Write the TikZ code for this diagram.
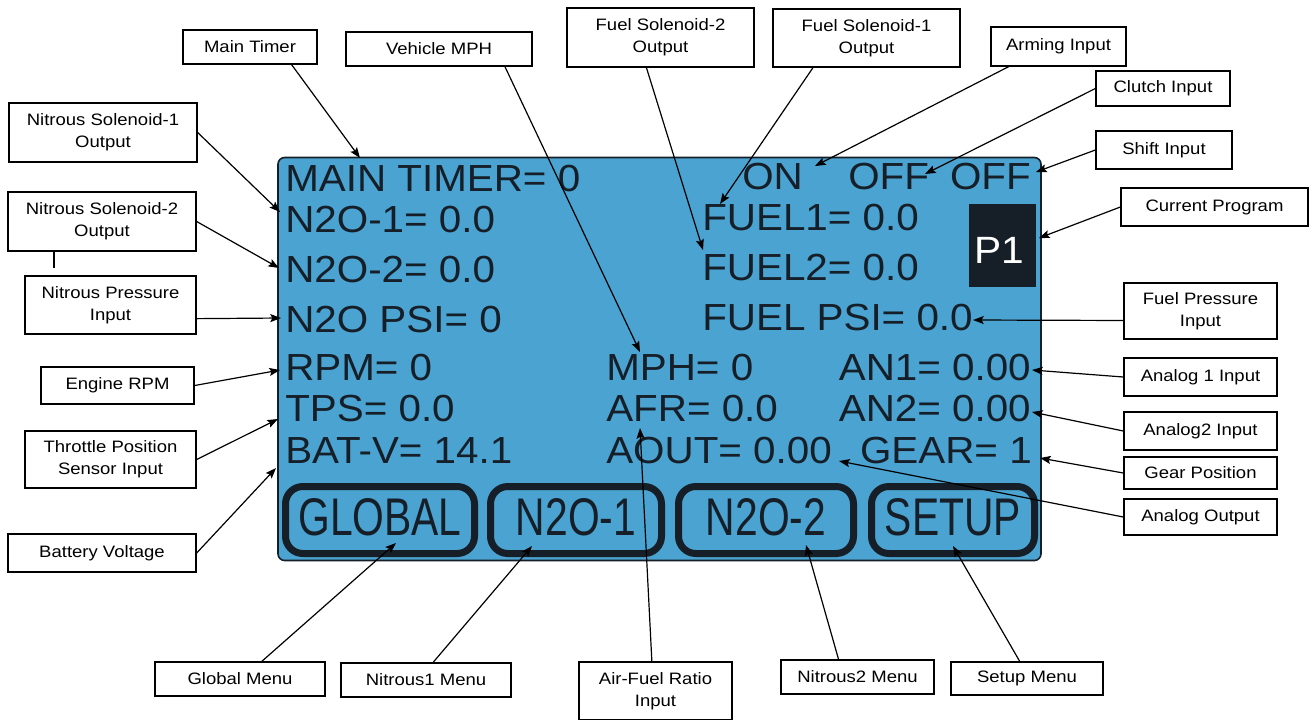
\documentclass[tikz,border=0pt]{standalone}
\usepackage{fontspec}
\setmainfont{Liberation Sans}
\newfontfamily\lblfont[FakeStretch=1.12]{Liberation Sans}
\newfontfamily\lcdfont[FakeStretch=1.07]{Liberation Sans}
\newfontfamily\keyfont[FakeStretch=0.77]{Liberation Sans}
\usepackage{xcolor}
\usetikzlibrary{arrows.meta}
\definecolor{lcdblue}{RGB}{74,163,208}
\definecolor{lcdink}{RGB}{22,30,40}

\begin{document}
\begin{tikzpicture}[
    x=0.75pt, y=-0.75pt,
    lbl/.style 2 args={rectangle, draw, fill=white, line width=1pt, align=center, inner sep=0pt, minimum width=#1*0.75pt, minimum height=#2*0.75pt, font=\lblfont\fontsize{12.4}{16.5}\selectfont},
    lcd/.style={anchor=base west, inner sep=0pt, text=lcdink, font=\lcdfont\fontsize{28.3}{30}\selectfont},
    key/.style 2 args={rectangle, draw=lcdink, line width=5.25pt, rounded corners=13pt, inner sep=0pt, text depth=5pt, text=lcdink, minimum width=#1*0.75pt, minimum height=#2*0.75pt, font=\keyfont\fontsize{39.75}{40}\selectfont},
    arrow/.style={-{Stealth[length=8pt, width=6pt, inset=1.5pt]}, line width=0.9pt}
]
    \path[use as bounding box, fill=white] (0,0) rectangle (1316,719);

    \node[draw=lcdink, fill=lcdblue, line width=1.2pt, rounded corners=5pt, minimum width=763*0.75pt, minimum height=403*0.75pt] (screen) at (659.5,359) {};

    \node[lcd] (timer) at (285,191) {MAIN TIMER= 0};
    \node[lcd] (nos1) at (285,232) {N2O-1= 0.0};
    \node[lcd] (nos2) at (285,282) {N2O-2= 0.0};
    \node[lcd] (nospsi) at (285,332) {N2O PSI= 0};
    \node[lcd] (rpm) at (285,380) {RPM= 0};
    \node[lcd] (tps) at (285,421.5) {TPS= 0.0};
    \node[lcd] (bat) at (285,463) {BAT-V= 14.1};
    \node[lcd] (mph) at (606,380) {MPH= 0};
    \node[lcd] (afr) at (606,421.5) {AFR= 0.0};
    \node[lcd] (aout) at (606,463) {AOUT= 0.00};
    \node[lcd] (on) at (742,189) {ON};
    \node[lcd] (offa) at (848,189) {OFF};
    \node[lcd, anchor=base east] (offb) at (1031,189) {OFF};
    \node[lcd] (fuel1) at (702,230.7) {FUEL1= 0.0};
    \node[lcd] (fuel2) at (702,280) {FUEL2= 0.0};
    \node[lcd] (fuelpsi) at (702,330) {FUEL PSI= 0.0};
    \node[lcd, anchor=base east] (an1) at (1031,380) {AN1= 0.00};
    \node[lcd, anchor=base east] (an2) at (1031,421.5) {AN2= 0.00};
    \node[lcd, anchor=base east] (gear) at (1032,463) {GEAR= 1};
    \node[fill=lcdink, inner sep=0pt, minimum width=67*0.75pt, minimum height=83*0.75pt] (prog) at (1002.5,245.5) {};
    \node[lcd, anchor=base, text=white, font=\lcdfont\fontsize{28.5}{30}\selectfont] (progtxt) at (999,263) {P1};

    \node[key={189}{67}] (bglobal) at (380,520) {GLOBAL};
    \node[key={171}{67}] (bnos1) at (576,520) {N2O-1};
    \node[key={175}{67}] (bnos2) at (766,520) {N2O-2};
    \node[key={163}{67}] (bsetup) at (953,520) {SETUP};

    \node[lbl={134}{34}] (maintimer) at (250,47) {Main Timer};
    \node[lbl={186}{34}] (vehmph) at (439,49) {Vehicle MPH};
    \node[lbl={187}{59}] (fsoltwo) at (660.5,37.5) {Fuel Solenoid-2\\Output};
    \node[lbl={187}{58}] (fsolone) at (866.5,38) {Fuel Solenoid-1\\Output};
    \node[lbl={135}{39}] (arming) at (1058.5,46.5) {Arming Input};
    \node[lbl={134}{35}] (clutchin) at (1163,88.5) {Clutch Input};
    \node[lbl={136}{38}] (shiftin) at (1164,150) {Shift Input};
    \node[lbl={187}{38}] (curprog) at (1214.5,207) {Current Program};
    \node[lbl={153}{56}] (fuelpress) at (1200.5,311) {Fuel Pressure\\Input};
    \node[lbl={153}{38}] (analogone) at (1200.5,377) {Analog 1 Input};
    \node[lbl={153}{38}] (analogtwo) at (1200.5,431) {Analog2 Input};
    \node[lbl={153}{32}] (gearpos) at (1200.5,473) {Gear Position};
    \node[lbl={153}{36}] (analogout) at (1200.5,517) {Analog Output};
    \node[lbl={152}{33}] (setupmenu) at (1027,678.5) {Setup Menu};
    \node[lbl={153}{34}] (nostwomenu) at (857.5,677) {Nitrous2 Menu};
    \node[lbl={153}{58}] (afrin) at (655.5,691) {Air-Fuel Ratio\\Input};
    \node[lbl={170}{34}] (nosonemenu) at (426,680) {Nitrous1 Menu};
    \node[lbl={170}{34}] (globalmenu) at (240,679) {Global Menu};
    \node[lbl={188}{38}] (battvolt) at (102,553) {Battery Voltage};
    \node[lbl={171}{57}] (throttle) at (110.5,459.5) {Throttle Position\\Sensor Input};
    \node[lbl={153}{37}] (enginerpm) at (117.5,385.5) {Engine RPM};
    \node[lbl={171}{58}] (nospress) at (110.5,305) {Nitrous Pressure\\Input};
    \node[lbl={188}{59}] (nossoltwo) at (102,221.5) {Nitrous Solenoid-2\\Output};
    \node[lbl={188}{59}] (nossolone) at (103,132.5) {Nitrous Solenoid-1\\Output};

    \coordinate (ttimer) at (360,158);
    \coordinate (tmph) at (640,352);
    \coordinate (tfuel2) at (703,250);
    \coordinate (tfuel1) at (720,204);
    \coordinate (tarm) at (815,166);
    \coordinate (tclutch) at (925,174);
    \coordinate (tshift) at (1036,172);
    \coordinate (tprog) at (1039,238);
    \coordinate (tfuelpsi) at (973,320);
    \coordinate (tan1) at (1032,370);
    \coordinate (tan2) at (1032,412);
    \coordinate (tgear) at (1040,458);
    \coordinate (taout) at (839,461);
    \coordinate (tsetup) at (953,546);
    \coordinate (tnos2) at (806,545);
    \coordinate (tafr) at (640,428);
    \coordinate (tnos1) at (532,546);
    \coordinate (tglobal) at (396,543);
    \coordinate (tbat) at (276,468);
    \coordinate (ttps) at (278,419);
    \coordinate (trpm) at (280,370);
    \coordinate (tnospsi) at (281,318);
    \coordinate (tnos2out) at (279,268);
    \coordinate (tnos1out) at (280,212);
    \coordinate (stub) at (54,268);

    \draw[arrow] (maintimer.-23) -- (ttimer);
    \draw[arrow] (vehmph.-15) -- (tmph);
    \draw[arrow] (fsoltwo.-115) -- (tfuel2);
    \draw[arrow] (fsolone.-151) -- (tfuel1);
    \draw[arrow] (arming.-158) -- (tarm);
    \draw[arrow] (clutchin.west) -- (tclutch);
    \draw[arrow] (shiftin.west) -- (tshift);
    \draw[arrow] (curprog.west) -- (tprog);
    \draw[arrow] (fuelpress.-173) -- (tfuelpsi);
    \draw[arrow] (analogone.west) -- (tan1);
    \draw[arrow] (analogtwo.west) -- (tan2);
    \draw[arrow] (gearpos.west) -- (tgear);
    \draw[arrow] (analogout.west) -- (taout);
    \draw[arrow] (setupmenu.113) -- (tsetup);
    \draw[arrow] (nostwomenu.137) -- (tnos2);
    \draw[arrow] (afrin.97) -- (tafr);
    \draw[arrow] (nosonemenu.68) -- (tnos1);
    \draw[arrow] (globalmenu.39) -- (tglobal);
    \draw[arrow] (battvolt.east) -- (tbat);
    \draw[arrow] (throttle.east) -- (ttps);
    \draw[arrow] (enginerpm.east) -- (trpm);
    \draw[arrow] (nospress.-9) -- (tnospsi);
    \draw[arrow] (nossoltwo.east) -- (tnos2out);
    \draw[arrow] (nossolone.east) -- (tnos1out);
    \draw[line width=0.9pt] (stub |- nossoltwo.south) -- (stub);
\end{tikzpicture}
\end{document}
